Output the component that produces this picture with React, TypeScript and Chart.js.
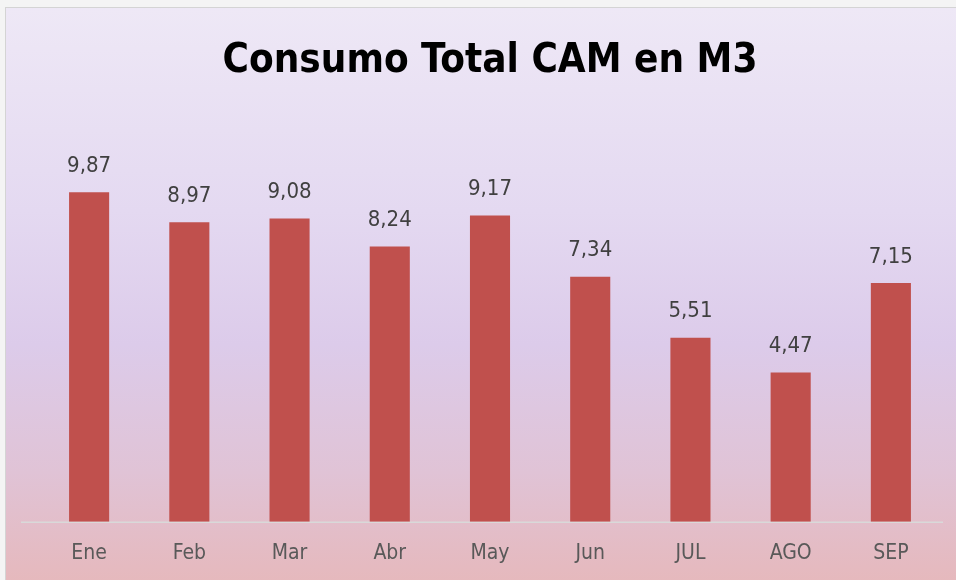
import React, { useEffect, useRef } from "react";
import { Chart, registerables } from "chart.js";

Chart.register(...registerables);

const categories = ["Ene", "Feb", "Mar", "Abr", "May", "Jun", "JUL", "AGO", "SEP"];
const values = [9.87, 8.97, 9.08, 8.24, 9.17, 7.34, 5.51, 4.47, 7.15];
const titleText = "Consumo Total CAM en M3";
const yMax = 12;

const FONT = "'Liberation Sans Narrow', 'DejaVu Sans Condensed', 'Open Sans', sans-serif";

const labelPlugin = {
  id: "valueLabels",
  afterDatasetsDraw(chart: any) {
    const ctx = chart.ctx;
    const meta = chart.getDatasetMeta(0);
    ctx.save();
    ctx.fillStyle = "#404040";
    ctx.font = `22px ${FONT}`;
    ctx.textAlign = "center";
    ctx.textBaseline = "middle";
    meta.data.forEach((bar: any, i: number) => {
      const v = chart.data.datasets[0].data[i] as number;
      ctx.fillText(v.toFixed(2).replace(".", ","), bar.x, bar.y - 26);
    });
    ctx.restore();
  },
  beforeDatasetsDraw(chart: any) {
    const { ctx, chartArea } = chart;
    ctx.save();
    ctx.strokeStyle = "#d9d9d9";
    ctx.lineWidth = 1.5;
    ctx.beginPath();
    ctx.moveTo(chartArea.left - 18, chartArea.bottom + 0.5);
    ctx.lineTo(chartArea.right + 2, chartArea.bottom + 0.5);
    ctx.stroke();
    ctx.restore();
  },
};

export default function App() {
  const ref = useRef<HTMLCanvasElement>(null);
  useEffect(() => {
    if (!ref.current) return;
    const chart = new Chart(ref.current, {
      type: "bar",
      data: {
        labels: categories,
        datasets: [
          {
            data: values,
            backgroundColor: "#C0504D",
            borderWidth: 0,
            barPercentage: 0.4,
            categoryPercentage: 1,
          },
        ],
      },
      options: {
        animation: false,
        responsive: false,
        maintainAspectRatio: false,
        layout: { padding: { left: 33, right: 15, top: 0, bottom: -5 } },
        plugins: {
          legend: { display: false },
          tooltip: { enabled: false },
          title: {
            display: true,
            text: titleText,
            color: "#000000",
            font: { family: FONT, size: 40, weight: "bold" },
            padding: { top: 30, bottom: 35 },
          },
        },
        scales: {
          x: {
            grid: { display: false, drawTicks: false },
            border: { display: false },
            ticks: {
              color: "#595959",
              font: { family: FONT, size: 21 },
              padding: 19,
            },
          },
          y: {
            display: false,
            min: 0,
            max: yMax,
          },
        },
      },
      plugins: [labelPlugin],
    });
    return () => chart.destroy();
  }, []);

  return (
    <div
      style={{
        position: "absolute",
        left: 0,
        top: 0,
        width: 956,
        height: 580,
        background: "#f4f4f4",
        overflow: "hidden",
      }}
    >
      <div
        style={{
          position: "absolute",
          left: 5,
          top: 7,
          width: 960,
          height: 580,
          border: "1px solid #d4d4d4",
          background:
            "linear-gradient(to bottom, #eee8f6 0%, #e4d9f1 35%, #dccbea 58%, #e0c3d6 80%, #e6b8bb 100%)",
        }}
      />
      <canvas
        ref={ref}
        width={950}
        height={572}
        style={{ position: "absolute", left: 6, top: 8 }}
      />
    </div>
  );
}
